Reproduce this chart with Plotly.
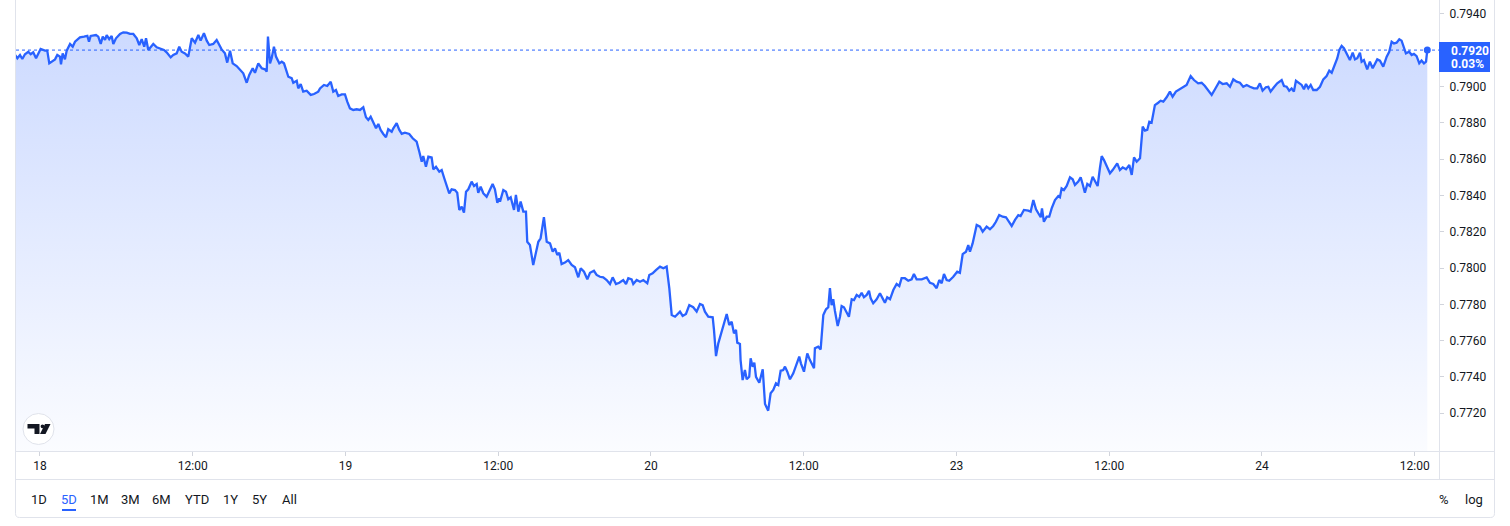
import plotly.graph_objects as go

# ---------------- data (trading hours since 18th 00:00, weekend removed) ----------------
hours = [
    -1.96, -1.78, -1.57, -1.39, -1.18, -0.92, -0.73, -0.53, -0.31, -0.13,
    0.05, 0.39, 0.57, 0.73, 1.00, 1.18, 1.36, 1.57, 1.65, 1.78,
    1.96, 2.10, 2.36, 2.57, 2.75, 3.14, 3.46, 3.72, 3.85, 3.98,
    4.40, 4.58, 4.77, 4.93, 5.11, 5.24, 5.44, 5.63, 5.76, 5.97,
    6.29, 6.54, 6.81, 7.07, 7.33, 7.60, 7.80, 7.99, 8.19, 8.33,
    8.51, 8.70, 8.90, 9.17, 9.43, 9.74, 9.95, 10.27, 10.47, 10.74,
    10.94, 11.13, 11.39, 11.65, 11.92, 12.18, 12.44, 12.62, 12.88, 13.10,
    13.30, 13.61, 13.88, 14.27, 14.53, 14.71, 14.93, 15.14, 15.45, 15.71,
    15.97, 16.24, 16.44, 16.71, 16.89, 17.15,
    17.42, 17.68, 17.81, 17.91, 18.07, 18.20, 18.38, 18.54, 18.80, 18.99,
    19.17, 19.51, 19.77, 19.90, 20.17, 20.29, 20.48, 20.68, 20.95, 21.27,
    21.53, 21.86, 22.00, 22.31, 22.57, 22.84, 23.04, 23.25, 23.43, 23.70,
    23.96, 24.14, 24.35, 24.61, 24.88, 25.14, 25.40, 25.61, 25.79, 25.98,
    26.18, 26.40, 26.58, 26.76, 26.97, 27.18, 27.36, 27.63, 27.76, 28.02,
    28.23, 28.42, 28.67, 29.01, 29.28, 29.59, 29.80, 29.99, 30.11, 30.32,
    30.51, 30.77, 30.90, 31.11, 31.37, 31.56, 31.76, 31.95, 32.15, 32.34,
    32.60, 32.78, 32.94, 33.13, 33.31, 33.47, 33.65, 33.91, 34.10, 34.31,
    34.43, 34.62, 34.83, 35.09, 35.30, 35.56, 35.74, 35.93, 36.08, 36.14,
    36.40, 36.61, 36.79, 36.98, 37.24, 37.39, 37.58, 37.76, 37.97, 38.18,
    38.28, 38.49, 38.75, 38.97, 39.15, 39.33, 39.59, 39.81, 40.07, 40.28,
    40.46, 40.64, 40.80, 40.98, 41.24, 41.50, 41.77, 42.03, 42.29, 42.48,
    42.74, 43.00, 43.21, 43.52, 43.73, 43.99, 44.25, 44.52, 44.78, 44.99,
    45.25, 45.51, 45.82, 46.04, 46.22, 46.48, 46.61, 46.88, 47.14, 47.40,
    47.71, 47.87, 48.13, 48.39, 48.71, 48.97, 49.23, 49.44, 49.63, 49.89,
    50.07, 50.28, 50.49, 50.75, 51.01, 51.32, 51.59, 51.85, 52.06, 52.24,
    52.50, 52.85, 52.95, 53.11, 53.29, 53.55, 53.73, 53.95, 54.15, 54.34,
    54.52, 54.68, 54.78, 54.99, 55.04,
    55.20, 55.38, 55.52, 55.72, 55.83, 55.99, 56.12, 56.25, 56.51, 56.78,
    56.96, 57.21, 57.40, 57.61, 57.82, 58.00, 58.19, 58.39, 58.53, 58.71,
    58.92, 59.18, 59.45, 59.65, 59.78, 60.02, 60.28, 60.49, 60.81, 60.88,
    61.14, 61.33, 61.54, 61.75, 61.93, 62.06, 62.19, 62.32, 62.45, 62.67,
    62.85, 62.98, 63.16, 63.37, 63.55, 63.77, 63.95, 64.16, 64.36, 64.55,
    64.73, 64.95, 65.13, 65.26, 65.46, 65.73, 65.99, 66.20, 66.38, 66.56,
    66.78, 67.04, 67.30, 67.51, 67.69, 67.95, 68.21, 68.48, 68.66, 68.87,
    69.27, 69.66, 69.92, 70.18, 70.44, 70.65, 70.84, 71.02, 71.23, 71.43,
    71.75, 72.06, 72.27, 72.49, 72.75, 72.93, 73.06, 73.27, 73.59, 73.85,
    74.06, 74.37, 74.63, 74.89, 75.10, 75.36, 75.63, 75.89, 76.15, 76.34,
    76.60, 76.86, 77.04, 77.30, 77.64, 77.83, 78.04, 78.25, 78.43, 78.62,
    78.72, 78.87, 79.09, 79.29, 79.48, 79.74, 80.00, 80.13, 80.26, 80.44,
    80.66, 80.92, 81.13, 81.31, 81.57, 81.76, 81.91, 82.09, 82.28, 82.49,
    82.70, 82.88, 83.09, 83.27, 83.41, 83.59, 83.80, 84.06, 84.27, 84.45,
    84.63, 84.84, 85.06, 85.32, 85.58, 85.77, 85.95, 86.16, 86.42, 86.63,
    86.81, 86.99, 87.15, 87.33, 87.59, 87.85, 88.04, 88.25, 88.51, 88.77,
    88.98, 89.24, 89.50, 89.81, 90.08, 90.40, 90.66, 90.99, 91.26, 91.52,
    91.78, 92.05, 92.31, 92.65, 92.91, 93.23, 93.49, 93.75, 94.01, 94.27,
    94.53, 94.80, 95.06, 95.37, 95.63, 95.84, 96.05, 96.31, 96.50, 96.68,
    96.94, 97.20, 97.55, 97.73, 97.94, 98.14, 98.33, 98.51, 98.67, 98.93,
    99.12, 99.30, 99.46, 99.64, 99.83, 100.03, 100.30, 100.56, 100.82, 101.08,
    101.29, 101.48, 101.74, 101.92, 102.08, 102.26, 102.44, 102.66, 102.91, 103.13,
    103.31, 103.49, 103.70, 103.83, 104.01, 104.27, 104.48, 104.70, 104.88, 105.06,
    105.27, 105.53, 105.80, 106.00, 106.19, 106.37, 106.58, 106.79, 106.97, 107.16,
    107.31, 107.57, 107.76, 107.94, 108.15, 108.36, 108.54, 108.73, 108.89, 108.99,
]

prices = [
    0.79174, 0.79156, 0.79174, 0.79152, 0.79178, 0.79192, 0.79178, 0.79189, 0.79156, 0.79183,
    0.79207, 0.79198, 0.79198, 0.79128, 0.79143, 0.79150, 0.79174, 0.79165, 0.79123, 0.79183,
    0.79150, 0.79198, 0.79235, 0.79220, 0.79247, 0.79271, 0.79275, 0.79279, 0.79247, 0.79279,
    0.79284, 0.79275, 0.79235, 0.79275, 0.79257, 0.79284, 0.79261, 0.79279, 0.79235, 0.79266,
    0.79290, 0.79299, 0.79297, 0.79290, 0.79290, 0.79266, 0.79229, 0.79261, 0.79220, 0.79266,
    0.79202, 0.79220, 0.79235, 0.79216, 0.79211, 0.79202, 0.79189, 0.79161, 0.79174, 0.79183,
    0.79220, 0.79192, 0.79183, 0.79165, 0.79266, 0.79242, 0.79284, 0.79253, 0.79294, 0.79253,
    0.79229, 0.79235, 0.79257, 0.79205, 0.79183, 0.79132, 0.79198, 0.79128, 0.79113, 0.79091,
    0.79073, 0.79021, 0.79064, 0.79101, 0.79076, 0.79128,
    0.79101, 0.79095, 0.79082, 0.79275, 0.79128, 0.79156, 0.79220, 0.79165, 0.79128, 0.79137,
    0.79128, 0.79054, 0.79046, 0.79021, 0.79032, 0.78990, 0.79014, 0.78972, 0.78977, 0.78954,
    0.78959, 0.78972, 0.78990, 0.79009, 0.79003, 0.79027, 0.78972, 0.78981, 0.78948, 0.78957,
    0.78957, 0.78917, 0.78880, 0.78871, 0.78875, 0.78871, 0.78886, 0.78831, 0.78816, 0.78834,
    0.78806, 0.78770, 0.78794, 0.78761, 0.78739, 0.78721, 0.78765, 0.78751, 0.78770, 0.78798,
    0.78761, 0.78739, 0.78746, 0.78739, 0.78715, 0.78696, 0.78641, 0.78586, 0.78617, 0.78558,
    0.78614, 0.78610, 0.78544, 0.78558, 0.78531, 0.78540, 0.78495, 0.78448, 0.78412, 0.78434,
    0.78430, 0.78415, 0.78320, 0.78338, 0.78305, 0.78421, 0.78434, 0.78476, 0.78452, 0.78463,
    0.78415, 0.78448, 0.78412, 0.78393, 0.78421, 0.78463, 0.78434, 0.78360, 0.78384, 0.78366,
    0.78430, 0.78421, 0.78379, 0.78390, 0.78320, 0.78403, 0.78311, 0.78366, 0.78311, 0.78311,
    0.78145, 0.78127, 0.78017, 0.78081, 0.78145, 0.78164, 0.78280, 0.78145, 0.78136, 0.78090,
    0.78109, 0.78072, 0.78085, 0.78022, 0.78030, 0.78044, 0.78017, 0.78004, 0.77949, 0.77999,
    0.77980, 0.77938, 0.77974, 0.77985, 0.77962, 0.77952, 0.77949, 0.77934, 0.77912, 0.77949,
    0.77912, 0.77919, 0.77934, 0.77912, 0.77944, 0.77938, 0.77912, 0.77934, 0.77925, 0.77934,
    0.77916, 0.77962, 0.77971, 0.77989, 0.78008, 0.77999, 0.78008, 0.77889, 0.77741, 0.77732,
    0.77747, 0.77760, 0.77736, 0.77747, 0.77796, 0.77784, 0.77760, 0.77802, 0.77796, 0.77760,
    0.77732, 0.77729, 0.77659, 0.77515, 0.77585, 0.77649, 0.77692, 0.77747, 0.77686, 0.77704,
    0.77640, 0.77659, 0.77589, 0.77582, 0.77493,
    0.77383, 0.77438, 0.77387, 0.77401, 0.77503, 0.77456, 0.77479, 0.77401, 0.77368, 0.77442,
    0.77251, 0.77214, 0.77310, 0.77328, 0.77365, 0.77356, 0.77434, 0.77438, 0.77457, 0.77429,
    0.77387, 0.77420, 0.77471, 0.77512, 0.77475, 0.77429, 0.77530, 0.77493, 0.77448, 0.77558,
    0.77567, 0.77552, 0.77741, 0.77773, 0.77784, 0.77889, 0.77796, 0.77828, 0.77765, 0.77681,
    0.77732, 0.77791, 0.77784, 0.77760, 0.77732, 0.77828, 0.77824, 0.77852, 0.77842, 0.77864,
    0.77839, 0.77852, 0.77875, 0.77833, 0.77806, 0.77828, 0.77861, 0.77833, 0.77809, 0.77839,
    0.77828, 0.77879, 0.77912, 0.77901, 0.77944, 0.77944, 0.77930, 0.77938, 0.77967, 0.77938,
    0.77938, 0.77949, 0.77919, 0.77912, 0.77889, 0.77934, 0.77916, 0.77967, 0.77934, 0.77930,
    0.77952, 0.77980, 0.77974, 0.78077, 0.78090, 0.78127, 0.78090, 0.78136, 0.78237, 0.78228,
    0.78200, 0.78228, 0.78214, 0.78232, 0.78255, 0.78292, 0.78283, 0.78280, 0.78255, 0.78232,
    0.78265, 0.78292, 0.78287, 0.78320, 0.78316, 0.78311, 0.78375, 0.78324, 0.78302, 0.78280,
    0.78329, 0.78255, 0.78283, 0.78283, 0.78329, 0.78375, 0.78397, 0.78390, 0.78439, 0.78430,
    0.78452, 0.78500, 0.78489, 0.78458, 0.78476, 0.78500, 0.78463, 0.78415, 0.78463, 0.78452,
    0.78503, 0.78481, 0.78452, 0.78550, 0.78617, 0.78595, 0.78558, 0.78522, 0.78540, 0.78558,
    0.78577, 0.78540, 0.78555, 0.78544, 0.78568, 0.78513, 0.78610, 0.78586, 0.78605, 0.78779,
    0.78757, 0.78761, 0.78806, 0.78801, 0.78898, 0.78911, 0.78922, 0.78917, 0.78941, 0.78972,
    0.78944, 0.78972, 0.78985, 0.78999, 0.79009, 0.79058, 0.79036, 0.79018, 0.79021, 0.79003,
    0.78977, 0.78954, 0.78985, 0.79027, 0.79014, 0.79018, 0.78999, 0.79040, 0.79027, 0.79021,
    0.78999, 0.79009, 0.78999, 0.78990, 0.78990, 0.79018, 0.78977, 0.78996, 0.78999, 0.78972,
    0.78996, 0.79018, 0.79036, 0.79003, 0.78999, 0.78977, 0.78990, 0.78972, 0.79032, 0.79021,
    0.79009, 0.78985, 0.79014, 0.78990, 0.79009, 0.78981, 0.78981, 0.78999, 0.79040, 0.79058,
    0.79088, 0.79076, 0.79128, 0.79156, 0.79202, 0.79224, 0.79211, 0.79183, 0.79146, 0.79187,
    0.79150, 0.79156, 0.79187, 0.79137, 0.79146, 0.79095, 0.79137, 0.79101, 0.79128, 0.79150,
    0.79143, 0.79110, 0.79165, 0.79192, 0.79247, 0.79238, 0.79242, 0.79261, 0.79253, 0.79211,
    0.79183, 0.79192, 0.79174, 0.79180, 0.79168, 0.79128, 0.79143, 0.79128, 0.79137, 0.79201,
]

x_tick_hours = [0, 12, 24, 36, 48, 60, 72, 84, 96, 108]
x_tick_labels = ["18", "12:00", "19", "12:00", "20", "12:00", "23", "12:00", "24", "12:00"]
y_tick_values = [0.7720, 0.7740, 0.7760, 0.7780, 0.7800, 0.7820, 0.7840,
                 0.7860, 0.7880, 0.7900, 0.7920, 0.7940]
change_text = "0.03%"
range_buttons = ["1D", "5D", "1M", "3M", "6M", "YTD", "1Y", "5Y", "All"]
active_button = "5D"

n = min(len(hours), len(prices))
hours, prices = hours[:n], prices[:n]
last_price = prices[-1]

# ---------------- layout geometry ----------------
W, H = 1510, 526
ML, MR, MT, MB = 16, 71, 0, 75
PW, PH = W - ML - MR, H - MT - MB
X_RANGE = [-1.885, 109.91]
Y_RANGE = [0.76992, 0.79477]

BLUE = "#2962ff"
TEXT = "#131722"
BORDER = "#e0e3eb"
FONT = "Roboto, Arial, sans-serif"


def PX(px):
    return (px - ML) / PW


def PY(py):
    return (H - MB - py) / PH


def path(points, close=True):
    s = "M " + " L ".join(f"{PX(x):.5f},{PY(y):.5f}" for x, y in points)
    return s + (" Z" if close else "")


fig = go.Figure()

fig.add_trace(go.Scatter(
    x=hours, y=prices, mode="lines",
    line=dict(color=BLUE, width=2.3),
    fill="tozeroy",
    fillgradient=dict(
        type="vertical",
        colorscale=[[0, "rgba(41,98,255,0.02)"], [1, "rgba(41,98,255,0.25)"]],
        start=Y_RANGE[0], stop=Y_RANGE[1],
    ),
    hoverinfo="skip", showlegend=False,
))

fig.add_trace(go.Scatter(
    x=[hours[-1]], y=[last_price], mode="markers",
    marker=dict(color=BLUE, size=7),
    hoverinfo="skip", showlegend=False,
))

shapes = []
# widget border (left, bottom rounded, right)
border_pts = "M {:.5f},{:.5f} L {:.5f},{:.5f} Q {:.5f},{:.5f} {:.5f},{:.5f} L {:.5f},{:.5f} Q {:.5f},{:.5f} {:.5f},{:.5f} L {:.5f},{:.5f}".format(
    PX(15.5), PY(-2), PX(15.5), PY(513.5), PX(15.5), PY(517.5), PX(19.5), PY(517.5),
    PX(1490.5), PY(517.5), PX(1494.5), PY(517.5), PX(1494.5), PY(513.5), PX(1494.5), PY(-2))
shapes.append(dict(type="path", xref="paper", yref="paper", path=border_pts,
                   line=dict(color=BORDER, width=1), layer="above"))
# time axis lines
for yy in (451.5, 479.5):
    shapes.append(dict(type="line", xref="paper", yref="paper",
                       x0=PX(15.5), x1=PX(1494.5), y0=PY(yy), y1=PY(yy),
                       line=dict(color=BORDER, width=1), layer="above"))
# price axis separator
shapes.append(dict(type="line", xref="paper", yref="paper",
                   x0=PX(1439.5), x1=PX(1439.5), y0=PY(-2), y1=PY(479.5),
                   line=dict(color=BORDER, width=1), layer="above"))
# last price dotted line
shapes.append(dict(type="line", xref="paper", yref="y", x0=0, x1=1,
                   y0=last_price, y1=last_price,
                   line=dict(color=BLUE, width=1, dash="dot"), layer="above"))
# last price label box
shapes.append(dict(type="rect", xref="paper", yref="paper",
                   x0=PX(1439), x1=PX(1490), y0=PY(72), y1=PY(42),
                   fillcolor=BLUE, line=dict(width=0), layer="above"))
# logo
shapes.append(dict(type="circle", xref="paper", yref="paper",
                   x0=PX(23), x1=PX(54), y0=PY(444.5), y1=PY(413.5),
                   fillcolor="white", line=dict(color=BORDER, width=1), layer="above"))
shapes.append(dict(type="path", xref="paper", yref="paper",
                   path=path([(27.5, 424), (39.5, 424), (39.5, 434), (34.5, 434), (34.5, 428.5), (27.5, 428.5)]),
                   fillcolor=TEXT, line=dict(width=0), layer="above"))
shapes.append(dict(type="circle", xref="paper", yref="paper",
                   x0=PX(40.6), x1=PX(44.4), y0=PY(428.2), y1=PY(424.4),
                   fillcolor=TEXT, line=dict(width=0), layer="above"))
shapes.append(dict(type="path", xref="paper", yref="paper",
                   path=path([(45, 424), (50.5, 424), (45.5, 434), (40, 434)]),
                   fillcolor=TEXT, line=dict(width=0), layer="above"))
# active range underline
shapes.append(dict(type="rect", xref="paper", yref="paper",
                   x0=PX(62), x1=PX(76), y0=PY(511), y1=PY(509),
                   fillcolor=BLUE, line=dict(width=0), layer="above"))

annotations = []
annotations.append(dict(x=PX(1449), y=PY(51), xref="paper", yref="paper",
                        text=f"<b>{last_price:.4f}</b>", showarrow=False, xanchor="left", yanchor="middle",
                        font=dict(color="white", size=12, family=FONT)))
annotations.append(dict(x=PX(1449), y=PY(64), xref="paper", yref="paper",
                        text=f"<b>{change_text}</b>", showarrow=False, xanchor="left", yanchor="middle",
                        font=dict(color="white", size=12, family=FONT)))
btn_centers = [38.5, 69, 99.5, 130, 161.5, 196.5, 230, 259.5, 289.5]
for lbl, cx in zip(range_buttons, btn_centers):
    annotations.append(dict(x=PX(cx), y=PY(499.5), xref="paper", yref="paper",
                            text=lbl, showarrow=False, xanchor="center", yanchor="middle",
                            font=dict(color=BLUE if lbl == active_button else TEXT, size=13, family=FONT)))
annotations.append(dict(x=PX(1444), y=PY(499), xref="paper", yref="paper", text="%",
                        showarrow=False, xanchor="center", yanchor="middle",
                        font=dict(color=TEXT, size=13, family=FONT)))
annotations.append(dict(x=PX(1474), y=PY(499), xref="paper", yref="paper", text="log",
                        showarrow=False, xanchor="center", yanchor="middle",
                        font=dict(color=TEXT, size=13, family=FONT)))

fig.update_layout(
    width=W, height=H,
    margin=dict(l=ML, r=MR, t=MT, b=MB, pad=0),
    paper_bgcolor="white", plot_bgcolor="white",
    showlegend=False, hovermode=False,
    font=dict(family=FONT, size=12, color=TEXT),
    shapes=shapes, annotations=annotations,
    xaxis=dict(
        range=X_RANGE, showgrid=False, zeroline=False, showline=False,
        tickmode="array", tickvals=x_tick_hours, ticktext=x_tick_labels,
        ticks="outside", ticklen=4, tickcolor="#d1d4dc", tickwidth=1,
        tickfont=dict(size=12, color=TEXT, family=FONT), fixedrange=True,
    ),
    yaxis=dict(
        range=Y_RANGE, side="right", showgrid=False, zeroline=False, showline=False,
        tickmode="array", tickvals=y_tick_values,
        ticktext=[f"{v:.4f}" for v in y_tick_values],
        ticks="outside", ticklen=4, tickcolor="#d1d4dc", tickwidth=1,
        ticklabelstandoff=3,
        tickfont=dict(size=12, color=TEXT, family=FONT), fixedrange=True,
    ),
)

fig.write_html(
    "out.html",
    config={"displayModeBar": False},
    post_script="document.body.style.margin='0';document.body.style.overflow='hidden';",
)
